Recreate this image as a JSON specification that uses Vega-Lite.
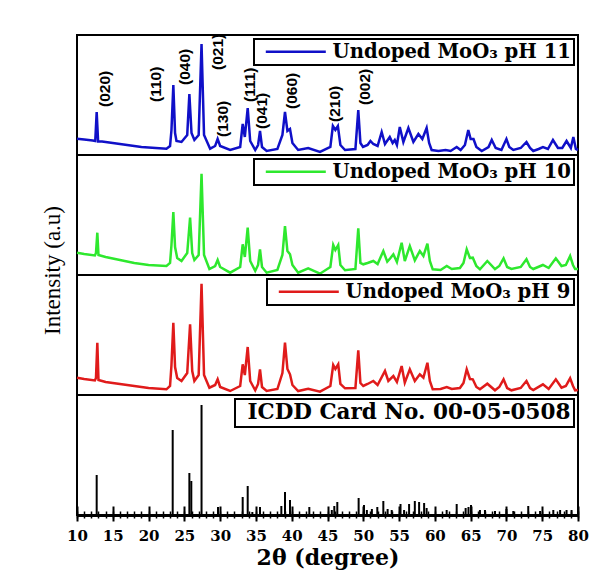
{
  "$schema": "https://vega.github.io/schema/vega-lite/v6.json",
  "padding": {"left": 40, "top": 32, "right": 5, "bottom": 5},
  "background": "white",
  "config": {
    "view": {"stroke": "black", "strokeWidth": 2},
    "legend": {"orient": "top-right", "offset": 4, "padding": 3, "strokeColor": "black", "strokeWidth": 2, "fillColor": "white",
      "labelFont": "DejaVu Serif", "labelFontWeight": "bold", "labelFontSize": 19.6, "labelColor": "black", "labelLimit": 500,
      "symbolType": "M-6,0L6,0", "symbolSize": 100, "symbolStrokeWidth": 2.5, "symbolOffset": 29, "labelOffset": 27}
  },
  "spacing": 0,
  "bounds": "flush",
  "resolve": {"scale": {"color": "independent"}},
  "datasets": {
    "blue": [
      {"t":10.0,"i":16.3},{"t":11.0,"i":15.5},{"t":12.2,"i":14.5},{"t":12.55,"i":14},{"t":12.75,"i":43},{"t":12.95,"i":13.5},{"t":13.5,"i":13.5},
      {"t":15,"i":12},{"t":17,"i":10},{"t":19,"i":8},{"t":21,"i":7},{"t":22.5,"i":6.3},{"t":23.0,"i":9},{"t":23.2,"i":25},{"t":23.46,"i":70},
      {"t":23.7,"i":22},{"t":23.9,"i":14},{"t":24.6,"i":13},{"t":25.4,"i":20},{"t":25.7,"i":61},{"t":26.0,"i":22},{"t":26.4,"i":15},
      {"t":27.0,"i":20},{"t":27.4,"i":111},{"t":27.75,"i":20},{"t":28.6,"i":6.3},{"t":29.3,"i":9},{"t":29.65,"i":16},{"t":30.0,"i":9},{"t":31.4,"i":5},
      {"t":32.8,"i":8},{"t":33.15,"i":31},{"t":33.45,"i":18},{"t":33.85,"i":47},{"t":34.2,"i":14},{"t":34.9,"i":5},{"t":35.3,"i":10},{"t":35.57,"i":24},
      {"t":35.85,"i":8},{"t":36.5,"i":4},{"t":38.0,"i":6},{"t":38.7,"i":20},{"t":39.06,"i":43},{"t":39.4,"i":24},{"t":39.76,"i":26},{"t":40.1,"i":12},
      {"t":40.9,"i":5},{"t":42.3,"i":7},{"t":43.95,"i":3},{"t":45.4,"i":8},{"t":45.75,"i":29},{"t":46.1,"i":25},{"t":46.45,"i":29},{"t":46.8,"i":10},
      {"t":47.45,"i":5},{"t":48.9,"i":6},{"t":49.3,"i":45},{"t":49.6,"i":12},{"t":49.96,"i":8},{"t":50.6,"i":10},{"t":51.0,"i":14},{"t":51.4,"i":11},
      {"t":52.0,"i":9},{"t":52.57,"i":23},{"t":53.03,"i":11},{"t":53.7,"i":18},{"t":54.1,"i":12},{"t":54.4,"i":15},{"t":54.7,"i":10},{"t":55.1,"i":28},
      {"t":55.6,"i":13},{"t":56.3,"i":27},{"t":57.0,"i":13},{"t":57.7,"i":21},{"t":58.25,"i":16},{"t":58.85,"i":27},{"t":59.2,"i":12},{"t":59.55,"i":5},
      {"t":60.5,"i":4},{"t":61.5,"i":5},{"t":62.2,"i":4},{"t":63.05,"i":8},{"t":63.6,"i":5},{"t":64.2,"i":10},{"t":64.67,"i":25},{"t":65.0,"i":16},
      {"t":65.4,"i":16},{"t":65.8,"i":8},{"t":66.55,"i":4},{"t":67.5,"i":8},{"t":67.95,"i":15},{"t":68.5,"i":7},{"t":69.3,"i":5},{"t":70.0,"i":16},
      {"t":70.4,"i":8},{"t":70.96,"i":5},{"t":72.0,"i":7},{"t":72.8,"i":13},{"t":73.3,"i":7},{"t":73.75,"i":4},{"t":74.5,"i":6},{"t":75.1,"i":8},
      {"t":75.8,"i":6},{"t":76.5,"i":15},{"t":77.2,"i":7},{"t":77.8,"i":7},{"t":78.4,"i":14},{"t":79.0,"i":7},{"t":79.35,"i":18},{"t":79.7,"i":6},{"t":80,"i":5}
    ],
    "green": [
      {"t":10.0,"i":22.3},{"t":11.0,"i":21},{"t":12.5,"i":19.5},{"t":12.65,"i":22},{"t":12.84,"i":42.3},{"t":13.0,"i":20},{"t":14,"i":18},{"t":16,"i":15},
      {"t":18,"i":12},{"t":20,"i":10},{"t":22.5,"i":9},{"t":23.0,"i":12},{"t":23.2,"i":30},{"t":23.46,"i":63},{"t":23.7,"i":28},{"t":24.0,"i":17},
      {"t":24.6,"i":14},{"t":25.4,"i":22},{"t":25.8,"i":57.3},{"t":26.1,"i":22},{"t":26.4,"i":15},{"t":27.0,"i":20},{"t":27.4,"i":101.3},{"t":27.75,"i":20},
      {"t":28.5,"i":6},{"t":29.3,"i":9},{"t":29.65,"i":15},{"t":30.0,"i":8},{"t":31.4,"i":2.3},{"t":32.8,"i":8},{"t":33.15,"i":30.7},{"t":33.45,"i":18},
      {"t":33.85,"i":47.3},{"t":34.2,"i":14},{"t":34.9,"i":4},{"t":35.3,"i":10},{"t":35.57,"i":25.7},{"t":35.85,"i":8},{"t":36.5,"i":2.3},{"t":38.0,"i":5},
      {"t":38.7,"i":20},{"t":39.06,"i":49},{"t":39.4,"i":24},{"t":39.76,"i":20.7},{"t":40.1,"i":10},{"t":40.9,"i":2.3},{"t":42.3,"i":6.7},{"t":43.95,"i":1.3},
      {"t":45.4,"i":8},{"t":45.8,"i":30},{"t":46.1,"i":25},{"t":46.5,"i":30},{"t":46.8,"i":10},{"t":47.45,"i":4.7},{"t":48.9,"i":6},{"t":49.3,"i":46.7},
      {"t":49.6,"i":12},{"t":50.0,"i":10.7},{"t":50.6,"i":12},{"t":51.4,"i":14},{"t":52.0,"i":11},{"t":52.8,"i":24},{"t":53.35,"i":13.3},{"t":53.8,"i":17},
      {"t":54.2,"i":20.7},{"t":54.7,"i":13},{"t":55.36,"i":32.3},{"t":55.8,"i":14},{"t":56.5,"i":29},{"t":57.2,"i":14.7},{"t":57.9,"i":24},{"t":58.4,"i":19},
      {"t":58.96,"i":31.3},{"t":59.3,"i":14},{"t":59.7,"i":5.7},{"t":60.8,"i":5},{"t":61.66,"i":9},{"t":62.36,"i":6},{"t":63.5,"i":7},{"t":64.0,"i":12},
      {"t":64.45,"i":25.7},{"t":64.9,"i":17},{"t":65.3,"i":17.3},{"t":65.8,"i":9},{"t":66.3,"i":5.7},{"t":67.33,"i":14},{"t":68.4,"i":6},{"t":69.0,"i":9},
      {"t":69.6,"i":16.7},{"t":70.1,"i":8},{"t":70.7,"i":6},{"t":72.0,"i":8},{"t":72.8,"i":15.7},{"t":73.3,"i":8},{"t":73.75,"i":6},{"t":75.1,"i":10},
      {"t":75.9,"i":7},{"t":76.9,"i":16.7},{"t":77.7,"i":9},{"t":78.3,"i":10},{"t":78.9,"i":19},{"t":79.3,"i":10},{"t":79.6,"i":6},{"t":80,"i":6}
    ],
    "red": [
      {"t":10.0,"i":17.3},{"t":11.0,"i":16},{"t":12.5,"i":14.5},{"t":12.65,"i":17},{"t":12.84,"i":52.3},{"t":13.0,"i":15},{"t":14,"i":13},{"t":16,"i":11},
      {"t":18,"i":9},{"t":20,"i":7},{"t":22.5,"i":5.7},{"t":23.0,"i":9},{"t":23.2,"i":30},{"t":23.46,"i":72.3},{"t":23.7,"i":28},{"t":24.0,"i":17},
      {"t":24.6,"i":14},{"t":25.4,"i":22},{"t":25.8,"i":70.7},{"t":26.1,"i":24},{"t":26.4,"i":14},{"t":27.0,"i":20},{"t":27.4,"i":111.3},{"t":27.75,"i":20},
      {"t":28.5,"i":7.3},{"t":29.3,"i":10},{"t":29.65,"i":15.7},{"t":30.0,"i":8},{"t":31.4,"i":4},{"t":32.8,"i":9},{"t":33.15,"i":30.7},{"t":33.45,"i":20},
      {"t":33.85,"i":48},{"t":34.2,"i":14},{"t":34.9,"i":4.7},{"t":35.3,"i":11},{"t":35.57,"i":25.7},{"t":35.85,"i":8},{"t":36.5,"i":4},{"t":38.0,"i":6},
      {"t":38.7,"i":22},{"t":39.06,"i":52.3},{"t":39.4,"i":26},{"t":39.76,"i":20.7},{"t":40.1,"i":10},{"t":40.9,"i":4},{"t":42.3,"i":6.3},{"t":43.95,"i":3.3},
      {"t":45.4,"i":9},{"t":45.8,"i":30},{"t":46.1,"i":26},{"t":46.5,"i":30.7},{"t":46.8,"i":11},{"t":47.45,"i":6.7},{"t":48.9,"i":7},{"t":49.3,"i":44.7},
      {"t":49.6,"i":12},{"t":50.0,"i":9},{"t":50.6,"i":11},{"t":51.4,"i":14},{"t":52.0,"i":10},{"t":53.03,"i":24},{"t":53.5,"i":14},{"t":54.2,"i":19},
      {"t":54.7,"i":13},{"t":55.36,"i":29},{"t":55.8,"i":12.3},{"t":56.5,"i":25.7},{"t":57.2,"i":14},{"t":57.9,"i":20.7},{"t":58.4,"i":17.3},{"t":58.96,"i":32.3},
      {"t":59.3,"i":14},{"t":59.7,"i":5.7},{"t":60.8,"i":6},{"t":61.66,"i":8},{"t":62.36,"i":6},{"t":63.5,"i":7},{"t":64.0,"i":12},{"t":64.45,"i":25.7},
      {"t":64.9,"i":16},{"t":65.3,"i":15.7},{"t":65.8,"i":8},{"t":66.3,"i":5.7},{"t":67.33,"i":11.3},{"t":68.4,"i":4.7},{"t":69.0,"i":8},{"t":69.6,"i":15.7},
      {"t":70.1,"i":7},{"t":70.7,"i":4.7},{"t":72.0,"i":7},{"t":72.8,"i":14},{"t":73.3,"i":7},{"t":73.75,"i":5},{"t":75.1,"i":10.7},{"t":75.9,"i":6},
      {"t":76.9,"i":15.7},{"t":77.7,"i":7.3},{"t":78.3,"i":9},{"t":78.9,"i":16.7},{"t":79.3,"i":9},{"t":79.6,"i":4.7},{"t":80,"i":5}
    ],
    "icdd": [
      {"t":12.75,"i":40},{"t":23.37,"i":85},{"t":25.7,"i":42},{"t":25.97,"i":34},{"t":27.4,"i":110},{"t":29.7,"i":8},{"t":33.15,"i":18},{"t":33.85,"i":29},
      {"t":34.5,"i":3},{"t":35.57,"i":8},{"t":38.55,"i":9},{"t":39.06,"i":23},{"t":39.76,"i":15},{"t":42.46,"i":8},{"t":45.6,"i":5},{"t":45.95,"i":9},
      {"t":46.37,"i":13},{"t":49.35,"i":17},{"t":50.1,"i":10},{"t":50.5,"i":5},{"t":51.2,"i":6},{"t":51.96,"i":8},{"t":52.8,"i":14},{"t":53.4,"i":6},
      {"t":53.97,"i":5},{"t":55.2,"i":11},{"t":55.7,"i":5},{"t":56.4,"i":11},{"t":57.2,"i":14},{"t":57.8,"i":13},{"t":58.5,"i":12},{"t":58.85,"i":7},
      {"t":61.65,"i":5},{"t":63.05,"i":11},{"t":64.3,"i":7},{"t":64.7,"i":8},{"t":65.05,"i":10},{"t":66.3,"i":5},{"t":67.0,"i":5},{"t":68.4,"i":4},
      {"t":70.0,"i":6},{"t":70.96,"i":4},{"t":73.05,"i":9},{"t":74.7,"i":4},{"t":76.55,"i":5},{"t":77.5,"i":5},{"t":78.4,"i":5},{"t":79.1,"i":5}
    ],
    "labels": [
      {"t":13.9,"i":48,"label":"(020)"},{"t":21.1,"i":53,"label":"(110)"},{"t":25.1,"i":70,"label":"(040)"},{"t":29.75,"i":85,"label":"(021)"},
      {"t":30.45,"i":18,"label":"(130)"},{"t":34.2,"i":53,"label":"(111)"},{"t":35.8,"i":26,"label":"(041)"},{"t":40.0,"i":46,"label":"(060)"},
      {"t":46.05,"i":33,"label":"(210)"},{"t":50.24,"i":50,"label":"(002)"}
    ]
  },
  "vconcat": [
    {
      "width": 501, "height": 120,
      "layer": [
        {
          "data": {"name": "blue"},
          "mark": {"type": "line", "strokeWidth": 2.5},
          "encoding": {
            "x": {"field": "t", "type": "quantitative", "scale": {"domain": [10, 80], "nice": false, "zero": false}, "axis": null},
            "y": {"field": "i", "type": "quantitative", "scale": {"domain": [0, 120], "nice": false}, "axis": null},
            "color": {"datum": "Undoped MoO₃ pH 11", "scale": {"range": ["#1010c8"]}, "legend": {"title": null}}
          }
        },
        {
          "data": {"name": "labels"},
          "mark": {"type": "text", "angle": 270, "align": "left", "baseline": "middle", "font": "Liberation Sans", "fontWeight": "bold", "fontSize": 15.5, "color": "black"},
          "encoding": {
            "x": {"field": "t", "type": "quantitative", "scale": {"domain": [10, 80], "nice": false, "zero": false}, "axis": null},
            "y": {"field": "i", "type": "quantitative", "scale": {"domain": [0, 120], "nice": false}, "axis": null},
            "text": {"field": "label"}
          }
        }
      ]
    },
    {
      "width": 501, "height": 120,
      "data": {"name": "green"},
      "mark": {"type": "line", "strokeWidth": 2.5},
      "encoding": {
        "x": {"field": "t", "type": "quantitative", "scale": {"domain": [10, 80], "nice": false, "zero": false}, "axis": null},
        "y": {"field": "i", "type": "quantitative", "scale": {"domain": [0, 120], "nice": false},
          "axis": {"domain": false, "ticks": false, "labels": false, "grid": false, "title": "Intensity (a.u)", "titleFont": "Liberation Serif", "titleFontSize": 23, "titleFontWeight": "normal", "titleColor": "black", "titlePadding": 13, "titleY": 115}},
        "color": {"datum": "Undoped MoO₃ pH 10", "scale": {"range": ["#2ee82e"]}, "legend": {"title": null}}
      }
    },
    {
      "width": 501, "height": 120,
      "data": {"name": "red"},
      "mark": {"type": "line", "strokeWidth": 2.5},
      "encoding": {
        "x": {"field": "t", "type": "quantitative", "scale": {"domain": [10, 80], "nice": false, "zero": false}, "axis": null},
        "y": {"field": "i", "type": "quantitative", "scale": {"domain": [0, 120], "nice": false}, "axis": null},
        "color": {"datum": "Undoped MoO₃ pH 9", "scale": {"range": ["#e01b1b"]}, "legend": {"title": null}}
      }
    },
    {
      "width": 501, "height": 120,
      "data": {"name": "icdd"},
      "resolve": {"axis": {"x": "independent"}},
      "layer": [
        {
          "mark": {"type": "rule", "strokeWidth": 2},
          "encoding": {
            "x": {"field": "t", "type": "quantitative", "scale": {"domain": [10, 80], "nice": false, "zero": false},
              "axis": {"orient": "bottom", "values": [10,15,20,25,30,35,40,45,50,55,60,65,70,75,80], "grid": false,
                "domainWidth": 3, "domainColor": "black", "tickColor": "black", "tickWidth": 2, "tickSize": 6,
                "labelFont": "DejaVu Serif", "labelFontWeight": "bold", "labelFontSize": 15, "labelColor": "black", "labelPadding": 7, "labelFlush": false, "labelOverlap": false,
                "title": "2θ (degree)", "titleFont": "DejaVu Serif", "titleFontWeight": "bold", "titleFontSize": 22, "titleColor": "black", "titlePadding": 4}},
            "y": {"field": "i", "type": "quantitative", "scale": {"domain": [0, 120], "nice": false}, "axis": null},
            "y2": {"datum": 0},
            "color": {"datum": "ICDD Card No. 00-05-0508", "scale": {"range": ["black"]},
              "legend": {"title": null, "symbolOpacity": 0, "symbolSize": 0, "symbolOffset": 0, "labelOffset": -12, "labelFontSize": 21.5}}
          }
        },
        {
          "mark": {"type": "rule", "opacity": 0},
          "encoding": {
            "x": {"field": "t", "type": "quantitative", "scale": {"domain": [10, 80], "nice": false, "zero": false},
              "axis": {"orient": "bottom", "values": [10,15,20,25,30,35,40,45,50,55,60,65,70,75,80], "grid": false, "domain": false, "labels": false, "title": null,
                "tickColor": "black", "tickWidth": 2, "tickSize": -9}},
            "y": {"field": "i", "type": "quantitative"},
            "y2": {"datum": 0}
          }
        },
        {
          "mark": {"type": "rule", "opacity": 0},
          "encoding": {
            "x": {"field": "t", "type": "quantitative", "scale": {"domain": [10, 80], "nice": false, "zero": false},
              "axis": {"orient": "bottom", "values": [10,11,12,13,14,15,16,17,18,19,20,21,22,23,24,25,26,27,28,29,30,31,32,33,34,35,36,37,38,39,40,41,42,43,44,45,46,47,48,49,50,51,52,53,54,55,56,57,58,59,60,61,62,63,64,65,66,67,68,69,70,71,72,73,74,75,76,77,78,79,80],
                "grid": false, "domain": false, "labels": false, "title": null, "tickColor": "black", "tickWidth": 1.5, "tickSize": -4}},
            "y": {"field": "i", "type": "quantitative"},
            "y2": {"datum": 0}
          }
        },
        {
          "mark": {"type": "rule", "opacity": 0},
          "encoding": {
            "x": {"field": "t", "type": "quantitative", "scale": {"domain": [10, 80], "nice": false, "zero": false},
              "axis": {"orient": "bottom", "values": [10,11,12,13,14,15,16,17,18,19,20,21,22,23,24,25,26,27,28,29,30,31,32,33,34,35,36,37,38,39,40,41,42,43,44,45,46,47,48,49,50,51,52,53,54,55,56,57,58,59,60,61,62,63,64,65,66,67,68,69,70,71,72,73,74,75,76,77,78,79,80],
                "grid": false, "domain": false, "labels": false, "title": null, "tickColor": "black", "tickWidth": 1.5, "tickSize": 3}},
            "y": {"field": "i", "type": "quantitative"},
            "y2": {"datum": 0}
          }
        }
      ]
    }
  ]
}
